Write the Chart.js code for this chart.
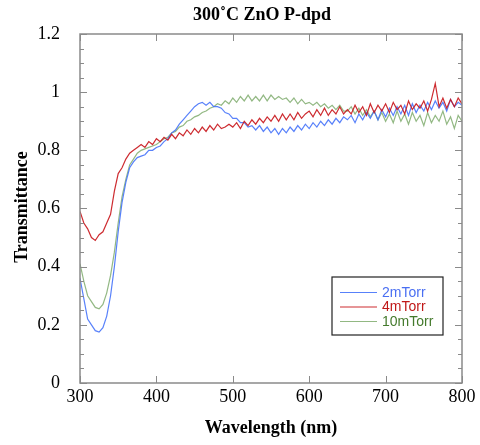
<!DOCTYPE html>
<html>
<head>
<meta charset="utf-8">
<script src="https://cdn.jsdelivr.net/npm/chart.js@4"></script>
<style>
  html, body { margin: 0; padding: 0; background: #fff; }
  #wrap { width: 480px; height: 445px; }
</style>
</head>
<body>
<div id="wrap"><canvas id="transChart" width="480" height="445"></canvas></div>
<script>
// wavelength grid (nm)
var wavelengths = [300, 305, 310, 315, 320, 325, 330, 335, 340, 345, 350, 355, 360, 365, 370, 375, 380, 385, 390, 395,
    400, 405, 410, 415, 420, 425, 430, 435, 440, 445, 450, 455, 460, 465, 470, 475, 480, 485, 490, 495,
    500, 505, 510, 515, 520, 525, 530, 535, 540, 545, 550, 555, 560, 565, 570, 575, 580, 585, 590, 595,
    600, 605, 610, 615, 620, 625, 630, 635, 640, 645, 650, 655, 660, 665, 670, 675, 680, 685, 690, 695,
    700, 705, 710, 715, 720, 725, 730, 735, 740, 745, 750, 755, 760, 765, 770, 775, 780, 785, 790, 795, 800];

var seriesNames = ['2mTorr', '4mTorr', '10mTorr'];

var trans2m = [0.36, 0.29, 0.22, 0.20, 0.18, 0.175, 0.19, 0.23, 0.30, 0.40, 0.52, 0.62, 0.69, 0.74, 0.76, 0.775, 0.78, 0.785, 0.80, 0.80,
    0.81, 0.815, 0.83, 0.84, 0.86, 0.87, 0.89, 0.905, 0.92, 0.935, 0.95, 0.96, 0.965, 0.955, 0.965, 0.95, 0.95, 0.945, 0.93, 0.925,
    0.91, 0.91, 0.895, 0.895, 0.88, 0.885, 0.87, 0.885, 0.865, 0.88, 0.86, 0.875, 0.855, 0.875, 0.86, 0.88, 0.865, 0.885, 0.87, 0.89,
    0.875, 0.895, 0.88, 0.9, 0.885, 0.905, 0.89, 0.91, 0.895, 0.915, 0.905, 0.92, 0.895, 0.925, 0.905, 0.93, 0.91, 0.935, 0.905, 0.94,
    0.915, 0.945, 0.92, 0.95, 0.925, 0.955, 0.92, 0.96, 0.93, 0.955, 0.935, 0.965, 0.94, 0.97, 0.945, 0.965, 0.935, 0.975, 0.95, 0.965, 0.955];

var trans4m = [0.59, 0.55, 0.53, 0.50, 0.49, 0.51, 0.52, 0.55, 0.58, 0.66, 0.72, 0.74, 0.77, 0.79, 0.80, 0.81, 0.82, 0.81, 0.83, 0.82,
    0.84, 0.83, 0.845, 0.835, 0.855, 0.84, 0.86, 0.85, 0.87, 0.855, 0.875, 0.86, 0.88, 0.865, 0.885, 0.87, 0.89, 0.875, 0.88, 0.89,
    0.88, 0.895, 0.875, 0.9, 0.885, 0.905, 0.89, 0.91, 0.895, 0.915, 0.9, 0.92, 0.9, 0.925, 0.905, 0.925, 0.905, 0.93, 0.91, 0.925,
    0.935, 0.915, 0.94, 0.92, 0.945, 0.92, 0.94, 0.925, 0.95, 0.925, 0.94, 0.925, 0.955, 0.93, 0.95, 0.92, 0.96, 0.93, 0.955, 0.935,
    0.96, 0.93, 0.965, 0.94, 0.955, 0.925, 0.97, 0.94, 0.96, 0.945, 0.97, 0.935, 0.975, 1.03, 0.95, 0.98, 0.945, 0.975, 0.95, 0.98, 0.96];

var trans10m = [0.41, 0.35, 0.30, 0.28, 0.26, 0.255, 0.27, 0.31, 0.37, 0.45, 0.55, 0.64, 0.70, 0.75, 0.77, 0.79, 0.80, 0.805, 0.81, 0.815,
    0.82, 0.83, 0.84, 0.845, 0.86, 0.865, 0.88, 0.885, 0.90, 0.905, 0.915, 0.92, 0.93, 0.935, 0.945, 0.95, 0.96, 0.955, 0.97, 0.96,
    0.98, 0.965, 0.985, 0.97, 0.99, 0.97, 0.985, 0.97, 0.99, 0.97, 0.99, 0.975, 0.985, 0.975, 0.98, 0.965, 0.98, 0.96, 0.975, 0.96,
    0.965, 0.955, 0.965, 0.95, 0.96, 0.945, 0.955, 0.94, 0.955, 0.935, 0.935, 0.95, 0.925, 0.945, 0.92, 0.94, 0.915, 0.935, 0.905, 0.93,
    0.90, 0.925, 0.895, 0.935, 0.90, 0.925, 0.89, 0.93, 0.90, 0.92, 0.885, 0.93, 0.895, 0.92, 0.90, 0.935, 0.89, 0.915, 0.875, 0.92, 0.90];

var xTicks = [300, 400, 500, 600, 700, 800];
var yTicks = [0, 0.2, 0.4, 0.6, 0.8, 1, 1.2];

var lineColors = ['rgba(70, 115, 250, 0.9)', 'rgba(200, 20, 25, 0.9)', 'rgba(110, 160, 90, 0.75)'];
var textColors = ['#4a6ff2', '#c01818', '#447a2c'];

function toPoints(ys) {
    return ys.map(function (y, i) { return { x: wavelengths[i], y: y }; });
}

var serif = '"Liberation Serif", "Times New Roman", serif';
var axisGray = '#8a8a8a';

// frame, inward ticks, title, axis titles and legend box
var decorPlugin = {
    id: 'decor',
    afterDatasetsDraw: function (chart) {
        var ctx = chart.ctx;
        var a = chart.chartArea;
        var xs = chart.scales.x, ys = chart.scales.y;
        ctx.save();
        ctx.strokeStyle = axisGray;
        ctx.lineWidth = 1.5;
        ctx.strokeRect(a.left, a.top, a.right - a.left, a.bottom - a.top);

        ctx.lineWidth = 1;
        xTicks.forEach(function (v) {
            var px = Math.round(xs.getPixelForValue(v)) + 0.5;
            ctx.beginPath();
            ctx.moveTo(px, a.bottom); ctx.lineTo(px, a.bottom - 7);
            ctx.moveTo(px, a.top); ctx.lineTo(px, a.top + 7);
            ctx.stroke();
        });
        for (var k = 0; k <= 24; k++) {
            var v = k * 0.05;
            var len = (k % 4 === 0) ? 7 : 4;
            var py = Math.round(ys.getPixelForValue(v)) + 0.5;
            ctx.beginPath();
            ctx.moveTo(a.left, py); ctx.lineTo(a.left + len, py);
            ctx.moveTo(a.right, py); ctx.lineTo(a.right - len, py);
            ctx.stroke();
        }

        // titles
        ctx.fillStyle = '#000';
        ctx.font = 'bold 18px ' + serif;
        ctx.textAlign = 'center';
        ctx.textBaseline = 'middle';
        ctx.fillText('300\u02DAC ZnO P-dpd', 262, 15);
        ctx.fillText('Wavelength (nm)', 271, 428);
        ctx.save();
        ctx.translate(22, 207);
        ctx.rotate(-Math.PI / 2);
        ctx.fillText('Transmittance', 0, 0);
        ctx.restore();

        // legend box
        var bx = 332, by = 277, bw = 111, bh = 58;
        ctx.fillStyle = '#fff';
        ctx.fillRect(bx, by, bw, bh);
        ctx.strokeStyle = '#222';
        ctx.lineWidth = 1.2;
        ctx.strokeRect(bx, by, bw, bh);
        ctx.font = '14px "Liberation Sans", Arial, sans-serif';
        ctx.textAlign = 'left';
        chart.data.datasets.forEach(function (ds, i) {
            var ry = by + 15 + i * 14.5;
            ctx.strokeStyle = ds.borderColor;
            ctx.lineWidth = 1;
            ctx.beginPath();
            ctx.moveTo(bx + 8, ry + 0.5); ctx.lineTo(bx + 45, ry + 0.5);
            ctx.stroke();
            ctx.fillStyle = textColors[i];
            ctx.fillText(ds.label, bx + 50, ry + 1);
        });
        ctx.restore();
    }
};

var ctxT = document.getElementById('transChart').getContext('2d');

var transChart = new Chart(ctxT, {
    type: 'line',
    data: {
        datasets: [
            { label: seriesNames[0], data: toPoints(trans2m), borderColor: lineColors[0], borderWidth: 1.2, pointRadius: 0, tension: 0, order: 2 },
            { label: seriesNames[1], data: toPoints(trans4m), borderColor: lineColors[1], borderWidth: 1.2, pointRadius: 0, tension: 0, order: 1 },
            { label: seriesNames[2], data: toPoints(trans10m), borderColor: lineColors[2], borderWidth: 1.2, pointRadius: 0, tension: 0, order: 3 }
        ]
    },
    options: {
        responsive: false,
        animation: false,
        layout: { padding: { top: 34, right: 18, left: 0, bottom: 0 } },
        plugins: {
            legend: { display: false },
            title: { display: false },
            tooltip: { enabled: false }
        },
        scales: {
            x: {
                type: 'linear',
                min: 300,
                max: 800,
                grid: { display: false },
                border: { display: false },
                afterBuildTicks: function (scale) {
                    scale.ticks = xTicks.map(function (v) { return { value: v }; });
                },
                afterFit: function (scale) { scale.height = 62; },
                ticks: {
                    color: '#000',
                    padding: -5,
                    maxRotation: 0,
                    font: { family: serif, size: 18 }
                }
            },
            y: {
                min: 0,
                max: 1.2,
                grid: { display: false },
                border: { display: false },
                afterBuildTicks: function (scale) {
                    scale.ticks = yTicks.map(function (v) { return { value: v }; });
                },
                afterFit: function (scale) { scale.width = 80; },
                ticks: {
                    color: '#000',
                    padding: 12,
                    font: { family: serif, size: 18 },
                    callback: function (v) { return String(Math.round(v * 10) / 10); }
                }
            }
        }
    }
    ,
    plugins: [decorPlugin]
});
</script>
</body>
</html>
